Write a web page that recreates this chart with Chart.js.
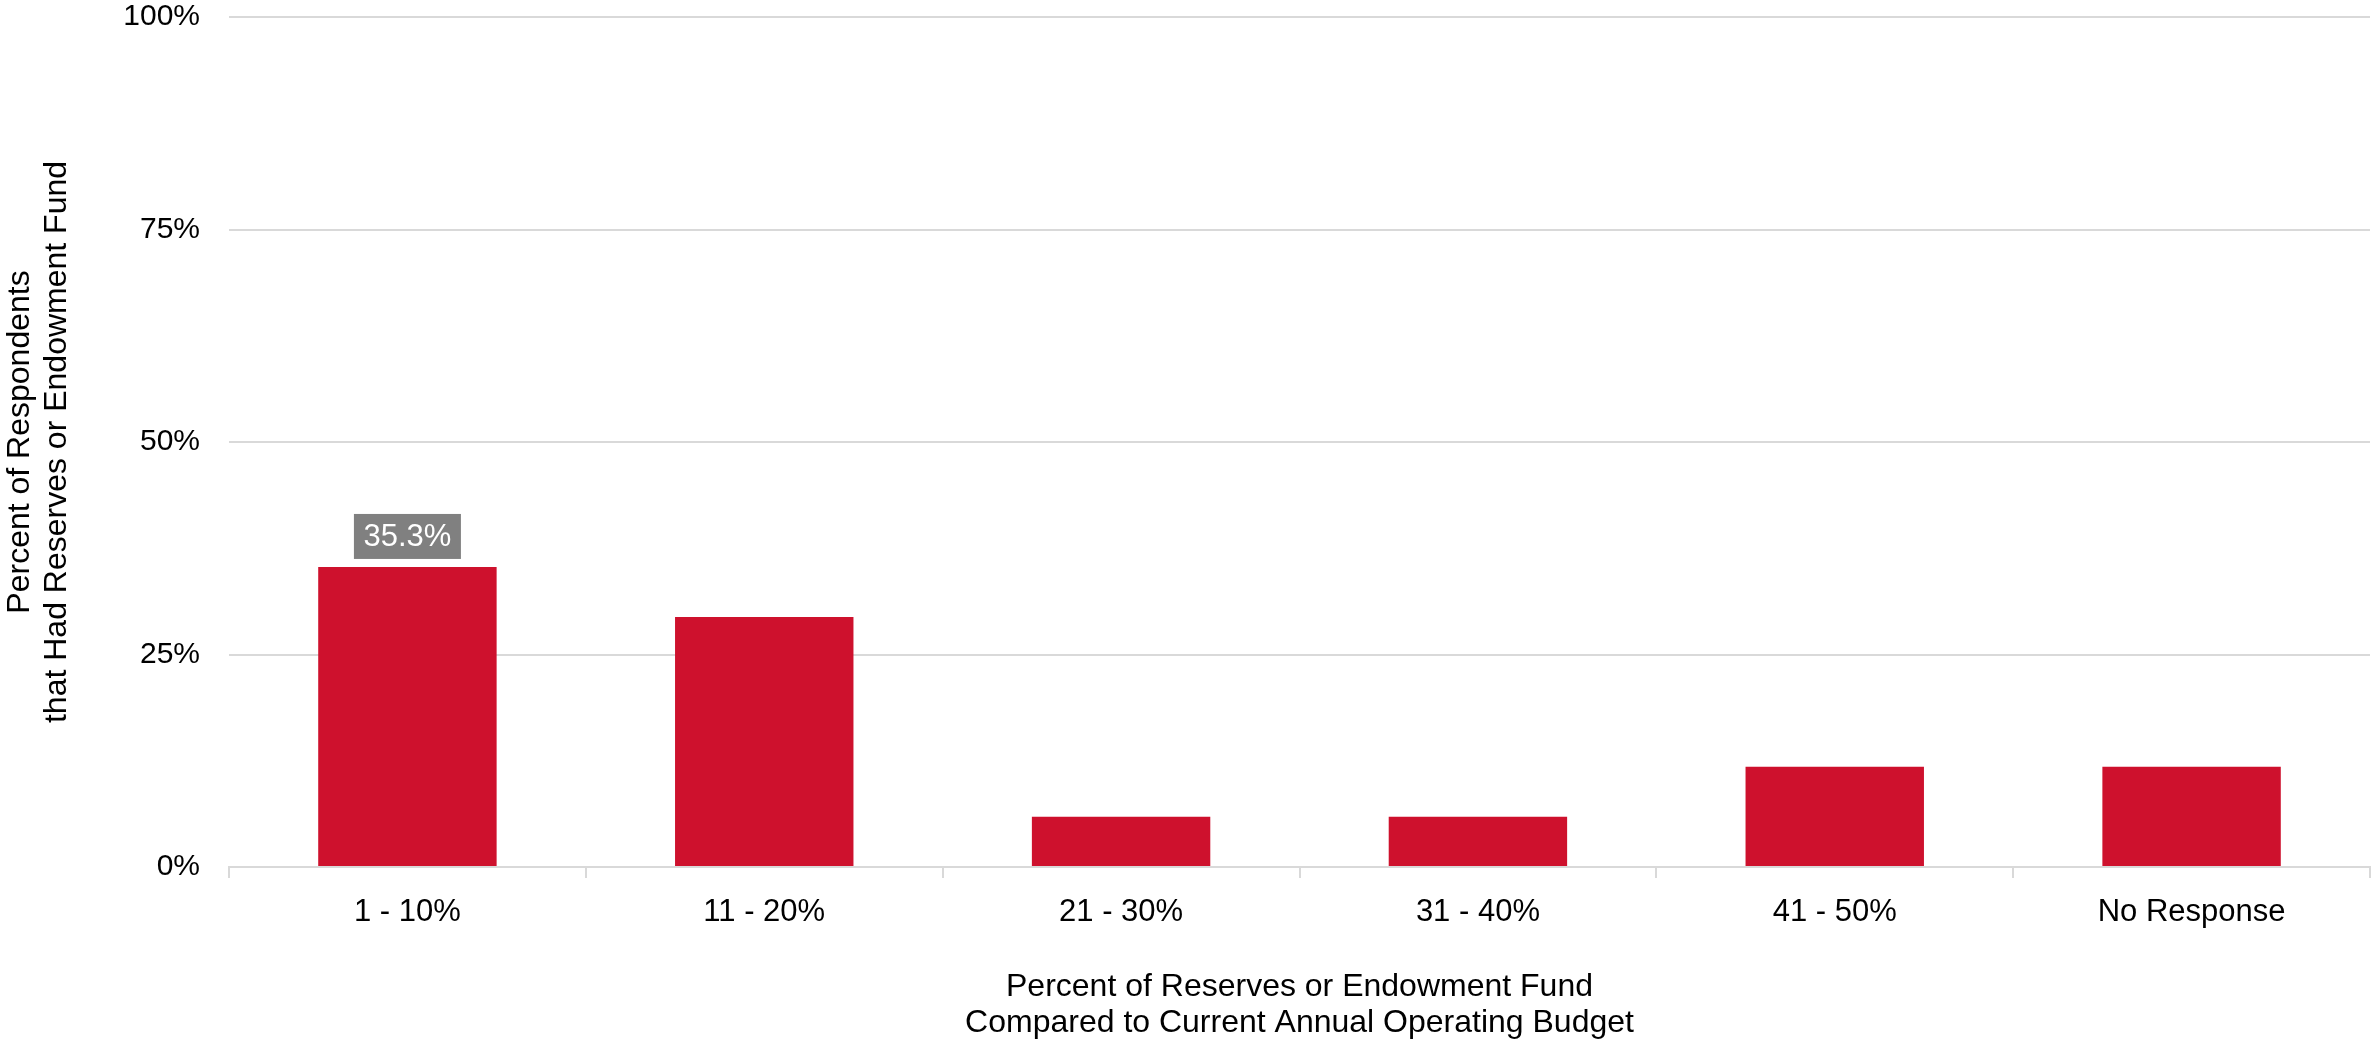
<!DOCTYPE html>
<html>
<head>
<meta charset="utf-8">
<script src="https://cdn.jsdelivr.net/npm/chart.js@4"></script>
<style>
  html, body { margin: 0; padding: 0; background: #fff; }
  #wrap { width: 2374px; height: 1042px; }
</style>
</head>
<body>
<div id="wrap"><canvas id="chart" width="2374" height="1042"></canvas></div>
<script>
const categories = ['1 - 10%', '11 - 20%', '21 - 30%', '31 - 40%', '41 - 50%', 'No Response'];
const percentValues = [35.3, 29.4, 5.9, 5.9, 11.8, 11.8];
const labelledBars = ['35.3%', null, null, null, null, null];
const yTicks = [0, 25, 50, 75, 100];

const FONT = "'Liberation Sans', Arial, sans-serif";
const GRID = '#d9d9d9';

// grey box label over the bars that carry one
const boxLabels = {
  id: 'boxLabels',
  afterDatasetsDraw(chart) {
    const ctx = chart.ctx;
    const meta = chart.getDatasetMeta(0);
    ctx.save();
    ctx.font = '31px ' + FONT;
    ctx.textAlign = 'center';
    ctx.textBaseline = 'middle';
    meta.data.forEach((bar, i) => {
      const txt = labelledBars[i];
      if (!txt) return;
      const w = 107, h = 45;
      const bottom = bar.y - 8;
      ctx.fillStyle = '#808080';
      ctx.fillRect(bar.x - w / 2, bottom - h, w, h);
      ctx.fillStyle = '#ffffff';
      ctx.fillText(txt, bar.x, bottom - h / 2 + 1);
    });
    ctx.restore();
  }
};

new Chart(document.getElementById('chart').getContext('2d'), {
  type: 'bar',
  data: {
    labels: categories,
    datasets: [{
      data: percentValues,
      backgroundColor: '#ce112d',
      barPercentage: 0.5,
      categoryPercentage: 1.0,
    }],
  },
  options: {
    responsive: false,
    animation: false,
    devicePixelRatio: 1,
    layout: { padding: { top: 17, right: 4, left: 0, bottom: 0 } },
    plugins: { legend: { display: false }, tooltip: { enabled: false } },
    scales: {
      x: {
        grid: { drawOnChartArea: false, drawTicks: true, tickLength: 11, color: GRID, lineWidth: 2, offset: true },
        border: { color: GRID, width: 2 },
        ticks: { color: '#000', font: { family: FONT, size: 31 }, padding: 16, maxRotation: 0 },
        title: {
          display: true,
          text: ['Percent of Reserves or Endowment Fund', 'Compared to Current Annual Operating Budget'],
          color: '#000',
          font: { family: FONT, size: 32, lineHeight: 1.15 },
          padding: { top: 0, bottom: 0 },
        },
        afterFit(scale) {
          scale.height = 175;
          scale.paddingLeft = 0;
          scale.paddingRight = 0;
        },
      },
      y: {
        min: 0,
        max: 100,
        afterBuildTicks(scale) { scale.ticks = yTicks.map(v => ({ value: v })); },
        grid: { color: GRID, lineWidth: 2, drawTicks: false },
        border: { display: false },
        ticks: { color: '#000', font: { family: FONT, size: 30 }, padding: 29, callback: v => v + '%' },
        title: {
          display: true,
          text: ['Percent of Respondents', 'that Had Reserves or Endowment Fund'],
          color: '#000',
          font: { family: FONT, size: 32, lineHeight: 1.15 },
          padding: { top: 2, bottom: 0 },
        },
        afterFit(scale) {
          scale.width = 229;
          scale.paddingTop = 0;
          scale.paddingBottom = 0;
        },
      },
    },
  },
  plugins: [boxLabels],
});
</script>
</body>
</html>
